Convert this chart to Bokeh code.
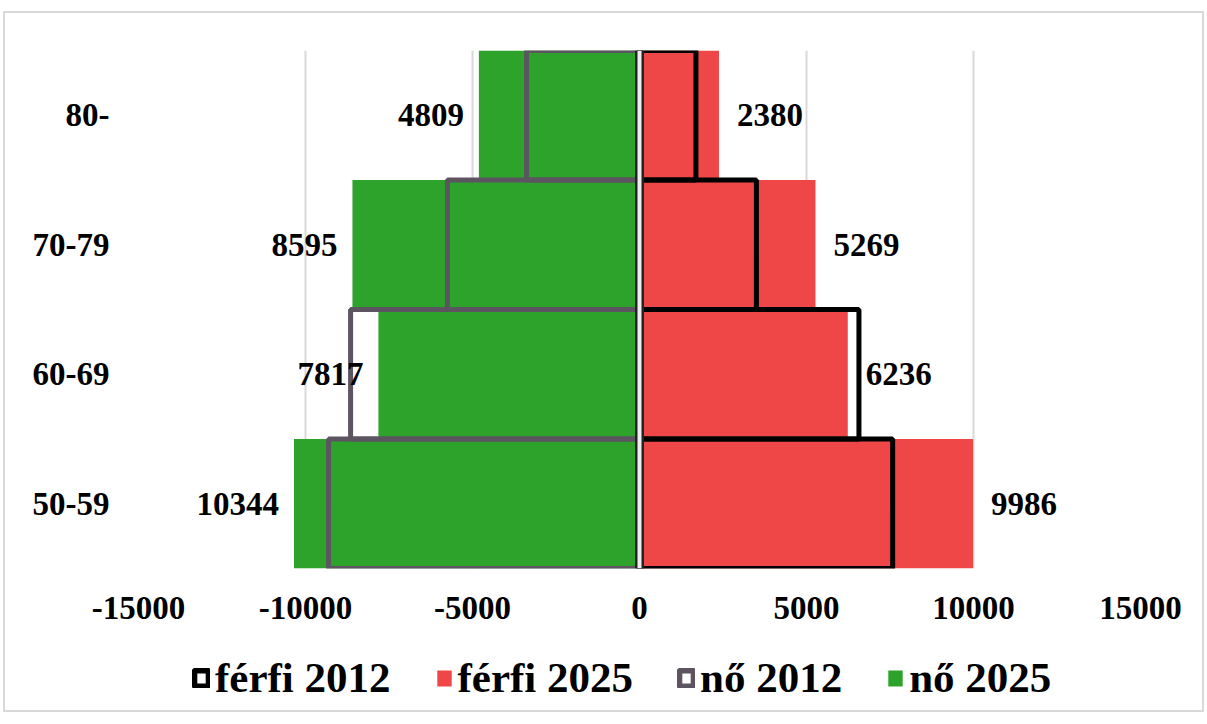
from bokeh.plotting import figure
from bokeh.layouts import column
from bokeh.models import FactorRange, Range1d, FixedTicker, Legend, LegendItem, Span, ColumnDataSource
from bokeh.core.properties import value
from bokeh.embed import file_html
from bokeh.resources import INLINE

# ---- data (bottom to top) ----
age_groups = ["50-59", "60-69", "70-79", "80-"]
ferfi_2012 = [7580, 6570, 3500, 1690]
ferfi_2025 = [9986, 6236, 5269, 2380]
no_2012 = [9310, 8650, 5750, 3380]
no_2025 = [10344, 7817, 8595, 4809]
x_ticks = [-15000, -10000, -5000, 0, 5000, 10000, 15000]
x_tick_labels = ["-15000", "-10000", "-5000", "0", "5000", "10000", "15000"]
series_names = ["férfi 2012", "férfi 2025", "nő 2012", "nő 2025"]

FONT = "Liberation Serif"
GREEN = "#2ea32c"
RED = "#ef4747"
GREY = "#5c5460"

src = ColumnDataSource(dict(
    age=age_groups,
    f12=ferfi_2012,
    f25=ferfi_2025,
    n12=[-v for v in no_2012],
    n25=[-v for v in no_2025],
    f25_lbl=[str(v) for v in ferfi_2025],
    n25_lbl=[str(v) for v in no_2025],
))

p = figure(frame_width=1002, frame_height=518, output_backend="svg", toolbar_location=None,
           y_range=FactorRange(factors=age_groups, range_padding=0),
           x_range=Range1d(-15000, 15000),
           min_border_left=133, min_border_right=62, min_border_top=37, min_border_bottom=72)
p.outline_line_color = None
p.background_fill_color = "white"

p.hbar(y="age", left="n25", right=0, height=1, source=src, fill_color=GREEN, line_color=None)
p.hbar(y="age", left=0, right="f25", height=1, source=src, fill_color=RED, line_color=None)
p.hbar(y="age", left="n12", right=0, height=1, source=src, fill_color=None, line_color=GREY, line_width=5)
p.hbar(y="age", left=0, right="f12", height=1, source=src, fill_color=None, line_color="black", line_width=5)

p.add_layout(Span(location=0, dimension="height", line_color="#222222", line_width=9))
p.add_layout(Span(location=0, dimension="height", line_color="#eeeeee", line_width=4))

p.text(x="n25", y="age", text="n25_lbl", source=src, x_offset=-15, text_align="right", text_baseline="middle",
       text_font=value(FONT), text_font_style="bold", text_font_size="33px", text_color="black")
p.text(x="f25", y="age", text="f25_lbl", source=src, x_offset=18, text_align="left", text_baseline="middle",
       text_font=value(FONT), text_font_style="bold", text_font_size="33px", text_color="black")

# axes
p.xaxis.ticker = FixedTicker(ticks=x_ticks)
p.xaxis.major_label_overrides = {t: l for t, l in zip(x_ticks, x_tick_labels)}
for ax in (p.xaxis, p.yaxis):
    ax.axis_line_color = None
    ax.major_tick_line_color = None
    ax.minor_tick_line_color = None
    ax.major_label_text_font = FONT
    ax.major_label_text_font_style = "bold"
    ax.major_label_text_font_size = "33px"
    ax.major_label_text_color = "black"
p.xaxis.major_label_standoff = 22
p.yaxis.major_label_standoff = 23

p.xgrid.ticker = FixedTicker(ticks=x_ticks)
p.xgrid.grid_line_color = "#d9d9d9"
p.xgrid.grid_line_width = 2
p.ygrid.grid_line_color = None

# ---- legend strip (separate figure below the chart; its frame aligns with the chart's frame) ----
lg = figure(width=1197, height=70, output_backend="svg", toolbar_location=None,
            x_range=Range1d(0, 1), y_range=Range1d(0, 1),
            min_border_left=0, min_border_right=0, min_border_top=0, min_border_bottom=0)
lg.axis.visible = False
lg.grid.grid_line_color = None
lg.outline_line_color = None
# off-screen placeholder so the legend swatches have a style to draw
hidden = ColumnDataSource(dict(y=[-5], l=[0], r=[0]))
styles = [dict(fill_color=None, line_color="black", line_width=6),
          dict(fill_color=RED, line_color=None),
          dict(fill_color=None, line_color=GREY, line_width=6),
          dict(fill_color=GREEN, line_color=None)]
items = []
for name, st in zip(series_names, styles):
    r = lg.hbar(y="y", left="l", right="r", height=1, source=hidden, **st)
    items.append(LegendItem(label=name, renderers=[r]))

legend = Legend(items=items, orientation="horizontal", location=(54, 8))
legend.label_text_font = FONT
legend.label_text_font_style = "bold"
legend.label_text_font_size = "43px"
legend.label_text_color = "black"
legend.label_standoff = 5
legend.glyph_width = 18
legend.glyph_height = 20
legend.spacing = 44
legend.padding = 5
legend.margin = 0
legend.border_line_color = None
legend.background_fill_alpha = 0
lg.add_layout(legend, "center")

layout = column(p, lg, spacing=0,
                styles={"border": "2px solid #d9d9d9", "margin-top": "11px", "margin-left": "3px"})

open("out.html", "w").write(file_html(layout, INLINE))
